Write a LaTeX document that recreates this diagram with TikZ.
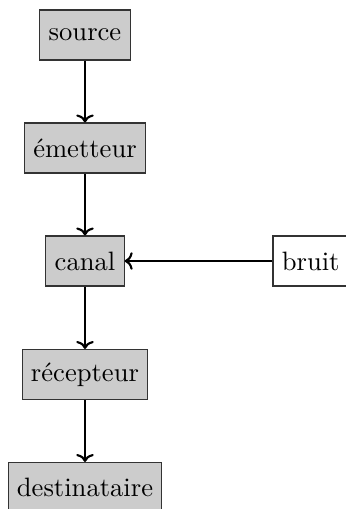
\documentclass[tikz,border=0pt]{standalone}
\usetikzlibrary{arrows.meta}
\begin{document}
\begin{tikzpicture}[x=0.376pt,y=-0.376pt,
  blockgray/.style={draw=black!80,fill=black!20,minimum height=18.8pt,inner xsep=3.33pt},
  blockwhite/.style={draw=black!80,fill=white,minimum height=18.8pt,inner xsep=3.33pt},
  conn/.style={thick,-{To[length=3pt,width=6.6pt]}}]
\useasboundingbox (0,0) rectangle (346,509);
\node[blockgray] (src) at (85,35) {source};
\node[blockgray] (em) at (85,148) {émetteur};
\node[blockgray] (can) at (85,261) {canal};
\node[blockgray] (rec) at (85,374.5) {récepteur};
\node[blockgray] (dst) at (85,487.5) {destinataire};
\node[blockwhite] (br) at (310.7,261) {bruit};
\draw[conn] (src) -- (em);
\draw[conn] (em) -- (can);
\draw[conn] (can) -- (rec);
\draw[conn] (rec) -- (dst);
\draw[conn] (br) -- (can);
\end{tikzpicture}
\end{document}
